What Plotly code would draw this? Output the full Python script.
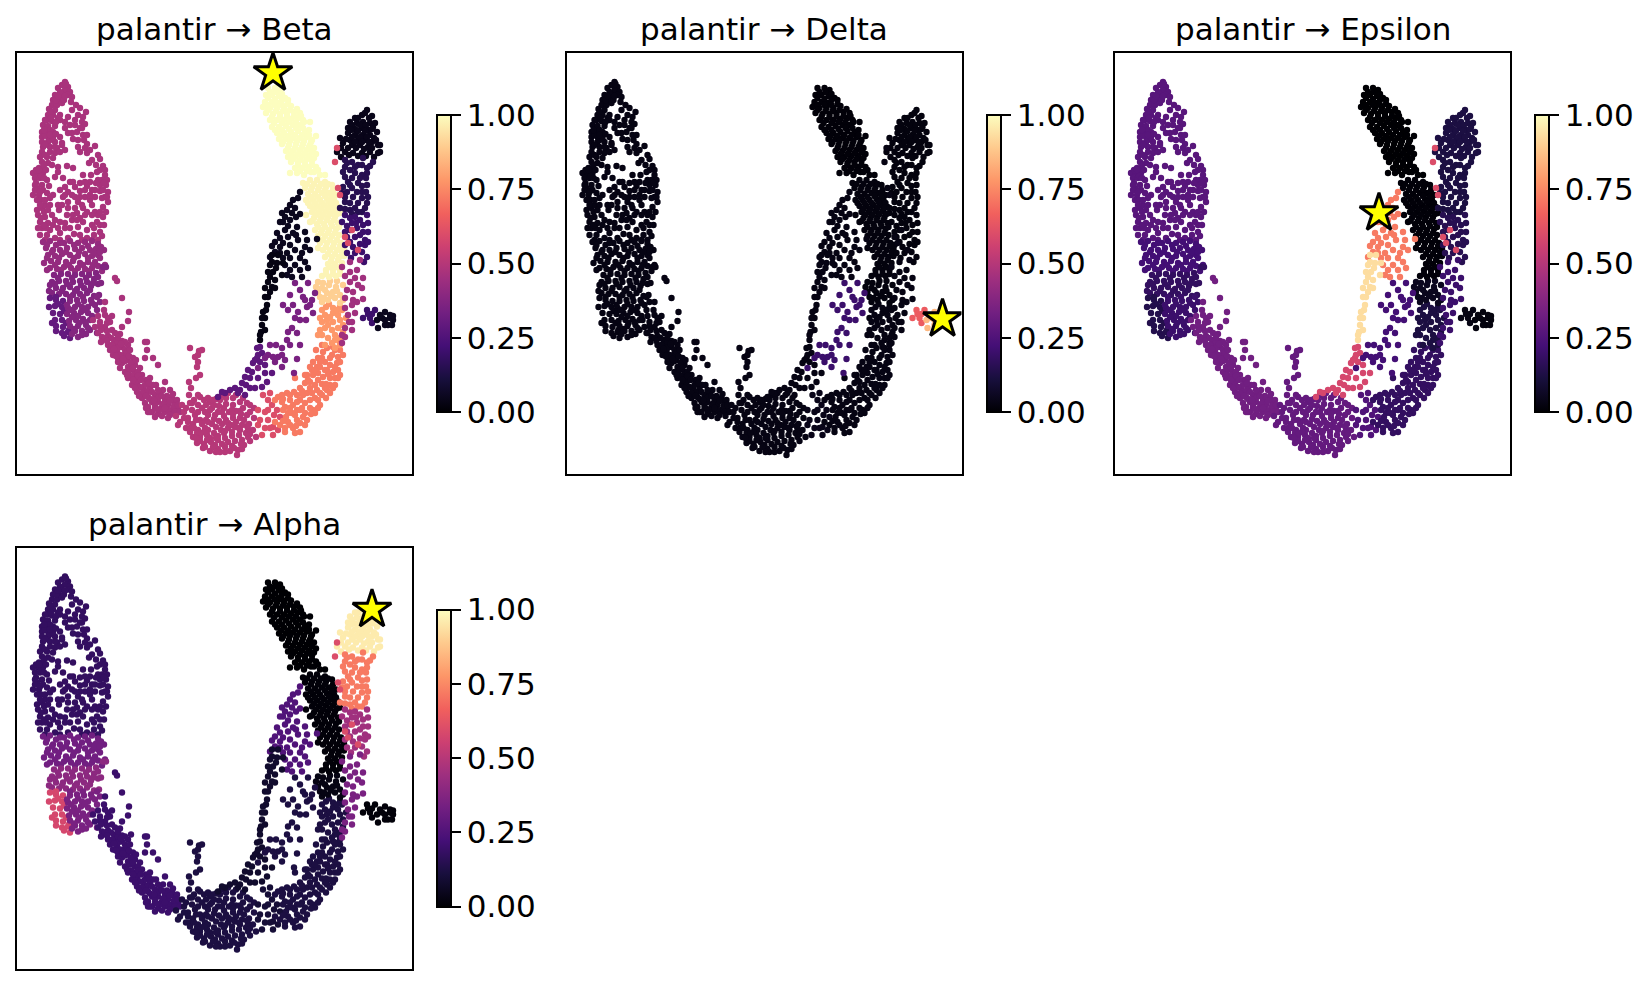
import plotly.graph_objects as go

W, H = 1651, 987

# embedding coordinates
lobe_top = [(65,82),(62,85),(68,87),(58,88),(65,90),(70,92),(55,95),(62,95),(68,95),(53,100),(59,100),(72,97),(52,105),(57,105),(62,103),(49,109),(55,110),(76,105),(80,108),(86,112),(72,110),(78,115),(83,117),(48,115),(53,115),(60,115),(68,117),(75,120),(82,122),(47,120),(52,121),(60,120),(65,122),(70,125),(85,124),(43,125),(48,126),(55,126),(65,128),(42,132),(47,132),(53,132),(42,137),(48,137),(60,137),(72,133),(83,135),(42,142),(48,142),(55,142),(62,143),(73,139),(78,140),(84,140),(43,147),(50,147),(57,148),(62,145),(78,147),(87,144),(95,146),(42,152),(50,152),(55,153),(80,152),(87,153),(98,155),(40,157),(47,157),(53,158),(100,159),(42,162),(48,163),(89,163),(96,165),(58,167),(67,166),(103,166),(39,168),(43,168),(58,172),(73,168),(100,170),(105,170),(33,173),(38,173),(43,173),(55,177),(63,178),(83,175),(91,175),(105,175),(35,178),(40,178),(47,180),(70,182),(80,183),(90,182),(102,180),(107,180),(36,183),(42,185),(49,186),(65,187),(75,187),(87,186),(100,185),(106,185),(37,188),(43,190),(68,192),(80,191),(92,190),(100,191),(108,192),(33,195),(39,195),(47,193),(53,195),(63,197),(72,195),(85,197),(95,197),(105,197),(37,200),(50,198),(68,202),(78,202),(90,200),(108,202),(37,210),(42,208),(59,210),(75,208),(83,208),(95,212),(103,207),(38,215),(45,217),(67,215),(77,213),(87,212),(98,215),(40,222),(48,223),(55,220),(65,223),(72,220),(80,218),(97,222),(42,228),(50,230),(65,228),(78,227),(87,230),(100,232),(40,235),(47,235),(55,238),(68,238),(74,234),(87,238),(102,236),
            (60,92),(66,84),(56,100),(64,100),(50,112),(58,118),(45,120),(50,130),(45,135),(50,140),(45,145),(53,138),(45,155),(52,165),(44,165),(36,170),(41,176),(46,170),(38,190),(35,185),(41,200),(45,205),(44,212),(41,218),(46,228),(53,225),(45,240),(60,233),(70,228),(83,222),(92,225),(94,235),(100,225),(103,217),(106,212),(102,198),(98,180),(95,190),(85,190),(75,197),(68,208),(60,190),(73,182),(75,125),(82,128),(77,132),(68,133),(87,135),(80,128),(55,147),(60,152),(65,150),(85,148),(90,150),(92,160),(97,172),(103,190),(58,205),(50,205),(60,222),(92,205),(85,215),(73,215),(90,195),
            (58,96),(65,96),(71,102),(51,118),(56,122),(44,130),(50,135),(56,134),(39,170),(44,178),(35,190),(40,192),(45,200),(40,205),(48,210),(52,215),(44,225),(58,228),(38,228),(60,240),(80,235),(94,228),(104,225),(107,197),(104,183),(85,182),(96,183),(65,195),(62,205),(80,197),(77,220),(82,205),(100,212),(92,215),(92,240),(98,240),(82,240)]
blob_upper = [(43,242),(50,241),(56,245),(64,243),(70,241),(78,243),(85,242),(92,241),(98,244),(46,248),(53,250),(60,250),(67,248),(75,249),(82,248),(90,250),(96,249),(104,250),(48,255),(55,256),(62,254),(70,255),(78,256),(85,254),(92,256),(98,255),(44,263),(51,261),(58,262),(66,262),(73,261),(80,263),(88,262),(95,262),(100,258),(50,268),(57,269),(64,267),(71,268),(78,268),(85,269),(92,268),(98,266),(105,265),
              (47,245),(60,243),(74,245),(88,246),(101,247),(52,252),(66,252),(79,252),(94,252),(47,258),(59,258),(74,258),(88,258),(100,252),(55,265),(69,265),(83,265),(93,265),(47,270),(61,270),(75,271),(89,271),(102,271)]
blob_mid = [(54,275),(61,274),(68,274),(75,275),(82,274),(89,275),(96,273),(103,267),(106,267),(52,282),(59,281),(66,281),(73,282),(80,281),(87,282),(94,279),(50,285),(56,288),(63,288),(70,287),(77,289),(84,288),(91,286),(98,284),(101,283),(52,293),(59,294),(66,294),(73,295),(80,294),(87,293),(94,296),(99,295),
            (58,278),(72,278),(86,278),(98,277),(55,284),(67,284),(81,285),(93,283),(49,291),(62,291),(75,291),(90,290)]
blob_lower = [(50,298),(56,300),(63,301),(49,307),(55,306),(62,307),(53,313),(60,314),(55,320),(62,320),(52,323),(56,326),(63,327),(56,331),(62,333),(68,332),(64,336),(70,338),
              (56,297),(58,304),(64,311),(66,323),(69,330)]
blob_right = [(70,301),(77,300),(84,301),(91,300),(97,297),(68,308),(75,307),(82,307),(88,307),(67,314),(74,313),(81,312),(88,313),(69,321),(76,320),(83,319),(90,320),(70,326),(78,326),(86,325),(75,331),(82,331),(90,330),(78,337),(86,334),(97,333),
              (70,297),(83,297),(92,303),(78,304),(67,305),(71,310),(85,310),(78,316),(92,316),(72,317),(85,322),(79,323),(74,329),(88,328),(82,335),(72,334),(95,305),(100,302),(97,310)]
tail = [(115,278),(117,281),(122,298),(129,312),(128,321),(122,327),(105,302),(104,310),(105,315),(100,322),(108,318),(112,316),(110,322),(112,330),(105,327),(98,333),(102,337),(108,336),(114,340),(120,334),(122,341),(115,345),(108,345),(101,342),(122,347),(128,345),(117,352),(110,350),(113,355),(118,358),(124,355),(131,340),(145,342),(147,342),(147,350),(153,358),(158,365),(127,360),(133,358),(122,363),(128,367),(135,365),(125,372),(130,370),(135,372),(140,368),(145,358),(128,378),(135,378),(142,375),(132,385),(137,383),(146,380),(150,378),(137,392),(144,390),(150,388),(138,380),(156,385),(163,390),(165,382),(142,398),(148,397),(155,395),(160,395),(170,390),(145,403),(152,402),(158,402),(165,400),(172,398),(148,407),(155,408),(162,407),(168,405),(175,403),(152,412),(158,414),(165,412),(172,410),(178,408),
        (100,326),(107,331),(111,338),(118,342),(105,338),(112,345),(118,348),(125,350),(120,355),(127,352),(125,361),(131,363),(118,362),(133,368),(138,372),(131,376),(138,376),(145,385),(140,387),(147,392),(152,392),(142,393),(158,390),(150,399),(158,398),(167,396),(155,405),(163,404),(170,401),(177,400),(150,412),(160,410),(168,410),(174,406),(175,412),(170,415),(180,412),(162,416),
        (98,316),(93,320),(101,330),(95,327),(107,323),(115,333),(118,337),(125,342),(107,341),(114,349),(121,344),(129,356),(116,356),(123,359),(130,350),(136,360),(120,368),(127,375),(141,380),(135,388),(133,380),(139,396),(146,396),(153,385),(149,383),(162,396),(173,394),(154,400),(146,408),(157,409),(165,408),(178,405),(155,417),(168,418),(148,412)]
island = [(190,348),(202,350),(199,351),(195,357),(198,355),(198,362),(197,367),(200,375),(196,378),(189,382),(191,388),(189,395)]
bottom = [(176,416),(182,405),(190,403),(184,412),(192,410),(180,422),(188,418),(195,415),(186,428),(193,424),(200,420),(205,412),(198,405),(204,400),(200,397),(210,402),(216,399),(222,395),(228,393),(233,398),(212,408),(219,406),(226,404),(233,405),(240,402),(208,415),(215,415),(222,412),(229,412),(236,411),(243,408),(250,405),(198,430),(205,428),(212,424),(219,421),(226,420),(233,418),(240,418),(247,415),(193,437),(200,437),(207,435),(214,433),(221,430),(228,428),(235,427),(242,425),(249,424),(197,443),(204,444),(211,442),(218,440),(225,438),(232,436),(239,435),(246,433),(253,430),(210,451),(218,449),(225,447),(232,446),(238,450),(237,455),(244,445),(250,441),(256,437),
          (186,408),(194,400),(202,408),(208,398),(214,405),(220,400),(226,398),(236,395),(243,398),(247,403),(254,408),(210,410),(218,412),(224,408),(232,410),(240,411),(250,412),(190,428),(196,420),(202,424),(208,430),(216,427),(222,424),(228,423),(236,422),(244,420),(254,418),(190,432),(197,433),(204,432),(210,438),(218,436),(224,433),(232,432),(240,430),(248,429),(200,441),(207,440),(215,445),(222,444),(228,442),(235,441),(242,440),(248,437),(213,447),(220,452),(230,451),(242,449),(203,448),(178,425),
          (184,418),(192,403),(198,412),(206,405),(212,400),(206,420),(214,419),(224,416),(233,414),(241,414),(194,428),(201,433),(208,422),(216,438),(225,431),(231,425),(239,428),(247,426),(205,447),(216,452),(225,452),(234,448),(241,444),(250,434),(196,438),(188,422),(198,395)]
bottom_mid = [(258,425),(268,400),(272,405),(265,412),(260,420),(265,428),(258,410),(263,395),(270,393),(273,427),(273,435),(268,420),(262,435),(277,410),(280,417),(268,410),(274,415),(270,428),(278,430)]
bottom_right = [(278,397),(287,393),(297,395),(282,402),(290,400),(300,388),(305,383),(310,382),(307,375),(295,378),(313,375),(318,373),(323,377),(330,378),(335,385),(327,390),(317,390),(307,393),(300,400),(293,405),(285,407),(288,413),(297,410),(305,403),(315,398),(322,395),(330,393),(320,405),(313,410),(305,413),(297,420),(288,422),(280,425),(285,432),(293,428),(300,423),(307,420),(315,413),(300,432),(317,367),(325,362),(330,365),(337,363),(338,357),(332,355),(323,352),(327,348),(333,347),(340,350),(318,358),(333,372),(327,370),(320,367),(338,370),(340,362),
                (282,395),(290,395),(283,410),(290,408),(297,402),(303,395),(310,388),(315,385),(322,384),(330,385),(326,384),(310,400),(302,408),(295,415),(286,417),(290,425),(303,417),(310,408),(318,400),(326,398),(325,370),(312,370),(318,380),(305,375),(335,378),(340,375),(330,358),(322,358),(335,350),(316,350),(322,345),(313,362),(310,367),
                (275,400),(283,399),(294,392),(302,391),(300,410),(292,413),(283,421),(275,422),(285,428),(296,426),(312,393),(320,393),(325,388),(333,388),(338,378),(328,374),(320,362),(335,367),(343,355),(340,343),(315,370),(308,380),(311,414),(318,408),(305,425),(295,433)]
upper_orange = [(322,335),(328,338),(335,340),(340,338),(325,345),(332,343),(325,328),(332,330),(338,328),(343,332),(327,320),(333,322),(340,320),(325,315),(333,313),(338,315),(326,307),(333,308),(340,307),
                (318,335),(328,325),(335,335),(320,330),(322,322),(330,317),(337,310),(342,310),(322,310),(329,304),(343,325),(346,318),(320,318),(335,348),(340,345)]
pale_orange = [(322,302),(328,300),(335,298),(340,303),(320,297),(327,293),(333,292),(340,295),(322,288),(329,285),(336,287),(318,282),
               (325,290),(331,296),(337,291),(343,300),(318,292),(324,298),(330,281),(337,281),(343,285),(323,283),(316,287)]
arm_upper = [(268,88),(275,88),(280,90),(266,95),(272,95),(279,96),(285,98),(265,102),(272,102),(279,103),(288,100),(263,107),(270,108),(277,108),(284,108),(291,106),(266,113),(273,114),(280,114),(287,113),(294,112),(300,113),(270,120),(277,120),(284,120),(291,119),(298,118),(304,122),(272,127),(279,127),(286,126),(293,125),(300,125),(310,122),(277,133),(284,133),(291,132),(298,131),(305,132),(316,136),(279,139),(286,139),(293,138),(300,138),(307,137),(312,140),(282,144),(289,145),(296,144),(303,144),(310,145),(286,151),(293,151),(300,150),(307,150),(314,148),(288,157),(295,157),(302,156),(309,156),(316,154),(291,162),(298,163),(305,162),(312,161),(295,168),(302,168),(309,167),(316,167),(290,173),(297,173),(304,175),(311,172),(318,170),
             (270,92),(276,92),(282,94),(268,98),(275,99),(282,100),(265,105),(268,105),(275,105),(282,105),(288,104),(268,110),(276,111),(283,111),(290,110),(297,109),(272,117),(280,117),(287,116),(294,116),(301,116),(274,123),(282,123),(289,122),(296,122),(303,120),(275,130),(282,130),(289,129),(296,128),(303,128),(309,130),(281,136),(288,136),(295,135),(302,135),(309,135),(283,142),(290,141),(297,141),(304,141),(311,142),(288,148),(295,148),(302,147),(309,147),(291,154),(298,154),(305,153),(312,152),(293,159),(300,160),(307,159),(314,158),(298,165),(305,165),(312,165),(300,171),(307,171),(314,172),(320,175),(325,175)]
trunk_lower = [(303,183),(310,180),(317,180),(325,182),(332,185),(305,188),(312,187),(319,187),(326,187),(333,190),(308,194),(315,194),(322,193),(329,193),(336,195),(306,200),(313,200),(320,200),(327,199),(334,200),(310,206),(317,206),(324,205),(331,205),(338,207),(312,212),(319,212),(326,211),(333,211),(340,213),(306,215),(314,218),(321,218),(328,217),(335,217),(310,222),(317,224),(324,224),(331,223),(338,223),(315,230),(322,230),(329,230),(336,229),(318,236),(325,236),(332,236),(339,235),(320,243),(327,243),(334,243),(341,243),(323,250),(330,250),(337,250),(344,249),(318,248),(325,257),(332,257),(339,257),(344,256),(328,264),(335,264),(342,263),(326,270),(333,270),(340,270),(322,276),(329,277),(336,276),
               (307,184),(314,184),(321,184),(328,184),(311,190),(318,190),(325,190),(332,193),(311,197),(318,197),(325,196),(332,197),(308,203),(315,203),(322,203),(329,202),(336,203),(314,209),(321,209),(328,208),(335,208),(316,215),(323,215),(330,214),(337,214),(312,221),(320,221),(327,220),(334,220),(318,227),(325,227),(332,226),(339,227),(321,233),(328,233),(335,233),(323,240),(330,240),(337,240),(326,247),(333,247),(340,246),(328,254),(335,254),(342,252),(331,261),(338,260),(330,267),(337,267),(326,274),(333,274),(340,274)]
right_top = [(367,110),(372,116),(362,115),(355,118),(350,122),(357,123),(363,122),(370,123),(375,123),(348,128),(355,129),(362,128),(368,130),(377,132),(348,133),(355,135),(363,135),(370,135),(350,140),(358,140),(365,140),(372,142),(378,145),(340,138),(343,143),(352,145),(360,145),(368,147),(380,152),(337,152),(345,152),(353,153),(362,153),(370,152),(378,153),
             (365,113),(369,118),(358,118),(352,125),(360,125),(366,125),(373,127),(351,130),(358,131),(365,131),(372,129),(352,137),(360,137),(367,137),(374,138),(346,139),(355,142),(362,142),(369,142),(348,148),(356,148),(364,149),(372,148),(341,148),(349,155),(358,156),(366,156),(374,157),(341,157),(376,140),(380,145)]
right_mid = [(345,160),(352,162),(363,158),(373,162),(345,167),(358,165),(367,168),(343,172),(355,173),(367,173),(348,182),(358,183),(367,185),(343,187),(352,188),(362,192),(368,197),(342,193),(353,197),(345,202),(358,203),(367,203),(340,208),(350,210),(362,212),
             (347,163),(355,167),(362,165),(370,166),(350,170),(362,175),(345,177),(352,178),(360,178),(366,178),(350,185),(362,186),(347,192),(357,192),(366,192),(345,197),(362,198),(350,203),(355,208),(365,208),(345,209),(352,214),(358,212)]
right_lower = [(345,215),(355,217),(367,215),(342,222),(352,223),(368,223),(357,228),(363,232),(347,237),(355,237),(365,240),(345,245),(353,247),(365,245),(347,253),(355,253),(367,257),
               (350,218),(360,220),(347,226),(356,223),(363,225),(350,230),(345,232),(360,235),(368,232),(350,242),(360,244),(368,242),(358,250),(351,258),(362,252),(364,262)]
right_low = [(360,260),(357,270),(363,278),(350,272),(342,267),(353,292),(347,290),(357,302),(363,299),(345,308),(355,313),(352,322),(345,328),(345,337),(342,343),(353,300),
             (350,262),(345,276),(355,278),(358,285),(350,282),(362,288),(345,298),(352,305),(348,315),(352,330),(342,335),(349,322)]
accents = [(335,162),(337,148),(340,195),(338,188),(345,237),(348,243),(352,230),(358,250)]
delta_left = [(367,310),(375,310),(363,318),(370,318),(372,323),(372,314),(368,314)]
delta_right = [(385,312),(377,320),(382,318),(390,318),(393,320),(388,325),(378,328),(385,325),(390,315),(380,315),(385,320),(393,316),(392,325)]
inner_upper = [(300,192),(293,200),(287,210),(282,213),(295,208),(283,222),(290,220),(297,227),(277,233),(285,230),(293,233),(275,242),(283,243),(298,240),(280,253),(270,257),(287,253),(307,240),(317,239),(302,253),
               (298,198),(290,205),(285,217),(292,213),(300,214),(280,222),(288,226),(296,217),(280,238),(288,237),(296,235),(305,232),(272,246),(280,247),(290,245),(275,252),(295,250),(305,247),(283,258),(290,258),(300,258),(310,250),(285,265),(295,265),(305,262),(290,270),(300,270),(308,268),(292,277),(302,277),(287,275)]
inner_left = [(278,255),(283,263),(277,263),(273,272),(282,275),(268,272),(268,282),(265,288),(272,287),(275,288),(265,297),(267,305),(263,312),(265,318),(262,325),(261,332),(260,340),
              (272,262),(270,265),(276,268),(270,277),(275,280),(270,292),(268,297),(266,310),(262,318),(260,335),(265,330),(272,255)]
inner_low = [(257,348),(260,347),(257,358),(253,363),(248,370),(245,377),(250,378),(242,383),(235,388),(240,390),(225,393),(218,397),(245,395),(258,378),(265,373),(267,382),(255,388),(262,353),(265,365),(272,373),(262,387),
             (252,372),(246,385),(238,393),(230,390),(222,392),(255,360),(260,362),(250,388),(258,355)]
mid_branch = [(295,283),(283,305),(293,305),(298,312),(307,307),(313,313),(303,297),(308,283),(315,293),(310,305),(295,318),(292,328),(288,332),(297,333),(287,340),(282,348),(278,357),(273,357),(282,367),(275,362),(297,359),(294,373),
              (300,290),(305,300),(290,295),(288,310),(300,320),(306,320),(312,300),(300,345),(290,345),(282,355),(276,345),(270,345),(268,355),(285,360),(258,368),(265,358)]

branches = [lobe_top, blob_upper, blob_mid, blob_lower, blob_right, tail, island, bottom, bottom_mid,
            bottom_right, upper_orange, pale_orange, arm_upper, trunk_lower, right_top, right_mid,
            right_lower, right_low, accents, delta_left, delta_right, inner_upper, inner_left,
            inner_low, mid_branch]

# fate probability of each branch, same order as branches
beta_values = [.47, .42, .37, .3, .38, .47, .5, .5, .6, .72, .78, .9, 1, .98, .04, .15, .2, .45, .6, .2, .05, .05, .03, .28, .35]
delta_values = [.03, .03, .03, .03, .03, .03, .03, .03, .04, .03, .03, .02, .01, .02, .02, .02, .02, .03, .03, .65, .85, .03, .03, .03, .2]
epsilon_values = [.27, .22, .18, .14, .2, .33, .3, .3, .25, .18, .12, .05, 0, .01, .12, .12, .15, .2, .6, .03, .02, .72, .93, .58, .22]
alpha_values = [.18, .33, .4, .58, .35, .2, .12, .12, .1, .12, .12, .03, 0, .01, .96, .72, .45, .35, .6, .01, .01, .25, .08, .08, .12]

titles = ["palantir → Beta", "palantir → Delta", "palantir → Epsilon", "palantir → Alpha"]
panel_values = [beta_values, delta_values, epsilon_values, alpha_values]
terminal_x = [273, 393, 281, 372]
terminal_y = [73, 319, 213, 115]
cbar_ticks = [0, 0.25, 0.5, 0.75, 1]
cbar_labels = ["0.00", "0.25", "0.50", "0.75", "1.00"]

# left, top of each axes frame in the page
frame_left = [17, 566.5, 1115, 17]
frame_top = [53, 53, 53, 547.5]
frame_w, frame_h = 395, 421

xs, ys = [], []
for b in branches:
    xs += [p[0] for p in b]
    ys += [p[1] for p in b]

fig = go.Figure()
annotations = []
for i in range(4):
    n = "" if i == 0 else str(i + 1)
    colors = []
    for b, v in zip(branches, panel_values[i]):
        colors += [v] * len(b)
    fig.add_trace(go.Scatter(
        x=xs, y=ys, mode="markers", xaxis="x" + n, yaxis="y" + n, showlegend=False,
        marker=dict(
            size=6.4, color=colors, colorscale="magma", cmin=0, cmax=1,
            colorbar=dict(
                lenmode="pixels", len=297, thicknessmode="pixels", thickness=14,
                x=(frame_left[i] + 420) / W, xanchor="left", xpad=0,
                y=1 - (frame_top[i] + 62) / H, yanchor="top", ypad=0,
                tickvals=cbar_ticks, ticktext=cbar_labels, ticks="outside", ticklen=9,
                tickwidth=2, tickcolor="black", outlinewidth=2, outlinecolor="black",
                tickfont=dict(family="DejaVu Sans", size=31, color="black"),
            ),
        ),
    ))
    fig.add_trace(go.Scatter(
        x=[terminal_x[i]], y=[terminal_y[i]], mode="markers", xaxis="x" + n, yaxis="y" + n,
        showlegend=False,
        marker=dict(symbol="star", size=29, color="yellow", line=dict(color="black", width=3)),
    ))
    axis = dict(showgrid=False, zeroline=False, showticklabels=False, ticks="", showline=True,
                mirror=True, linecolor="black", linewidth=2)
    fig.layout["xaxis" + n] = dict(axis, range=[17, 412], anchor="y" + n,
                                   domain=[frame_left[i] / W, (frame_left[i] + frame_w) / W])
    fig.layout["yaxis" + n] = dict(axis, range=[474, 53], anchor="x" + n,
                                   domain=[1 - (frame_top[i] + frame_h) / H, 1 - frame_top[i] / H])
    annotations.append(dict(
        text=titles[i], xref="paper", yref="paper", showarrow=False,
        x=(frame_left[i] + frame_w / 2) / W, y=1 - (frame_top[i] - 23.5) / H,
        xanchor="center", yanchor="middle",
        font=dict(family="DejaVu Sans", size=31, color="black"),
    ))

fig.update_layout(width=W, height=H, margin=dict(l=0, r=0, t=0, b=0), plot_bgcolor="white",
                  paper_bgcolor="white", annotations=annotations)
fig.write_html("out.html", config=dict(displayModeBar=False),
               post_script="document.body.style.margin='0';")
